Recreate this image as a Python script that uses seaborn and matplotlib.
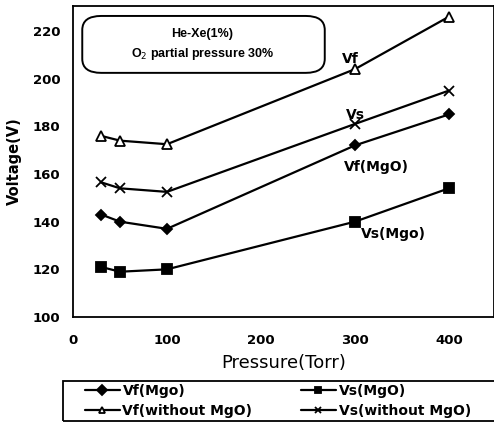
import matplotlib
matplotlib.use("Agg")
import matplotlib.pyplot as plt
from matplotlib.patches import FancyBboxPatch, Rectangle
import seaborn as sns
import pandas as pd

pressure = [30, 50, 100, 300, 400]
vf_mgo = [143, 140, 137, 172, 185]
vs_mgo = [121, 119, 120, 140, 154]
vf_without = [176, 174, 172.5, 204, 226]
vs_without = [156.5, 154, 152.5, 181, 195]
series_names = ["Vf(Mgo)", "Vs(MgO)", "Vf(without MgO)", "Vs(without MgO)"]
x_ticks = [0, 100, 200, 300, 400]
y_ticks = [100, 120, 140, 160, 180, 200, 220]

sns.set_style("white")
plt.rcParams['font.family'] = ['DejaVu Sans']
for key in ["text.color", "axes.labelcolor", "xtick.color", "ytick.color"]:
    plt.rcParams[key] = "black"

rows = []
for name, vals in zip(series_names, [vf_mgo, vs_mgo, vf_without, vs_without]):
    for p, v in zip(pressure, vals):
        rows.append({"Pressure": p, "Voltage": v, "Series": name})
df = pd.DataFrame(rows)

W, H = 494, 424
fig = plt.figure(figsize=(W / 100, H / 100), dpi=100)
ax = fig.add_axes([73 / W, 1 - 317 / H, 421 / W, 311 / H])

markers = {"Vf(Mgo)": "D", "Vs(MgO)": "s", "Vf(without MgO)": "^", "Vs(without MgO)": "x"}
sizes = {"Vf(Mgo)": 5.5, "Vs(MgO)": 6.5, "Vf(without MgO)": 6.5, "Vs(without MgO)": 7}
for name in series_names:
    sub = df[df["Series"] == name]
    mk = markers[name]
    sns.lineplot(data=sub, x="Pressure", y="Voltage", ax=ax, color="black",
                 linewidth=1.6, marker=mk, markersize=sizes[name],
                 markerfacecolor="white" if mk == "^" else "black",
                 markeredgecolor="black", markeredgewidth=1.3, label=name)

ax.set_xlim(0, 448)
ax.set_ylim(100, 230.5)
ax.set_xticks(x_ticks)
ax.set_yticks(y_ticks)
ax.tick_params(axis="both", labelsize=9.5, length=0, colors="black")
ax.tick_params(axis="x", pad=12)
ax.tick_params(axis="y", pad=9)
for lab in ax.get_xticklabels() + ax.get_yticklabels():
    lab.set_fontweight("bold")
ax.set_xlabel("Pressure(Torr)", fontsize=13, labelpad=5, color="black")
ax.set_ylabel("Voltage(V)", fontsize=10.5, fontweight="bold", labelpad=8, color="black")
for s in ax.spines.values():
    s.set_color("black")
    s.set_linewidth(1.3)

box = FancyBboxPatch((0.022, 0.785), 0.576, 0.183, transform=ax.transAxes,
                     boxstyle="round,pad=0,rounding_size=0.045",
                     facecolor="white", edgecolor="black", linewidth=1.4, zorder=5)
ax.add_patch(box)
ax.text(0.307, 0.91, "He-Xe(1%)", transform=ax.transAxes, ha="center", va="center",
        fontsize=9, fontweight="bold", family="Liberation Sans", zorder=6)
ax.text(0.307, 0.846, "O$_2$ partial pressure 30%", transform=ax.transAxes, ha="center",
        va="center", fontsize=9, fontweight="bold", family="Liberation Sans", zorder=6)

ax.text(286, 206.5, "Vf", fontsize=10, fontweight="bold")
ax.text(290, 183, "Vs", fontsize=10, fontweight="bold")
ax.text(288, 161.3, "Vf(MgO)", fontsize=10, fontweight="bold")
ax.text(306, 133.2, "Vs(Mgo)", fontsize=10, fontweight="bold")

handles, labels = ax.get_legend_handles_labels()
ax.get_legend().remove()
order = [0, 2, 1, 3]
leg = fig.legend([handles[i] for i in order], [labels[i] for i in order],
                 loc="upper left", bbox_to_anchor=(85 / W, 1 - 384 / H),
                 ncol=2, frameon=False, fontsize=10, handlelength=2.5,
                 handletextpad=0.2, borderpad=0, columnspacing=3.5,
                 labelspacing=0.45, borderaxespad=0)
for t in leg.get_texts():
    t.set_fontweight("bold")
    t.set_color("black")
for h in leg.legend_handles:
    h.set_markersize(5)
fig.patches.append(Rectangle((63 / W, 1 - 421 / H), 440 / W, 40 / H,
                             transform=fig.transFigure, fill=False,
                             edgecolor="black", linewidth=1.3))

fig.savefig("out.png", dpi=100)
